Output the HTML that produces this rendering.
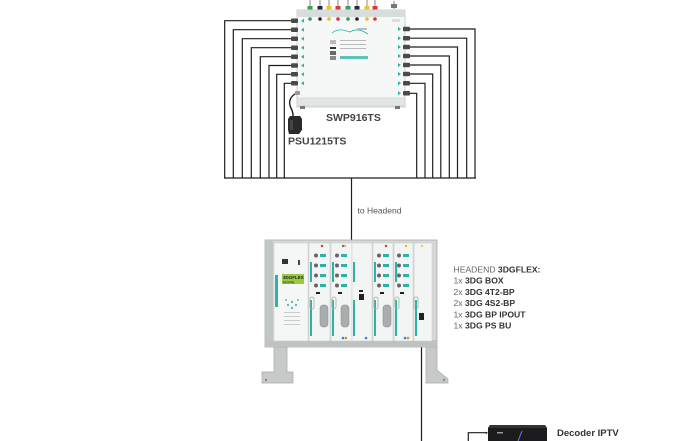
<!DOCTYPE html>
<html><head><meta charset="utf-8"><style>
html,body{margin:0;padding:0;background:#fff;}
svg{display:block;}
text{font-family:"Liberation Sans",sans-serif;}
</style></head><body>
<svg width="700" height="441" viewBox="0 0 700 441" xmlns="http://www.w3.org/2000/svg">
<rect width="700" height="441" fill="#fff"/>
<g fill="none" stroke="#1e1e1e" stroke-width="1.2">
<path d="M292 20.7H224.7V178"/>
<path d="M292 29.7H233.3V178"/>
<path d="M292 38.7H242.3V178"/>
<path d="M292 47.7H251.3V178"/>
<path d="M292 56.7H260.3V178"/>
<path d="M292 65.5H269V178"/>
<path d="M292 74.3H276.7V178"/>
<path d="M292 83.3H284.3V178"/>
<path d="M410 29H475V178"/>
<path d="M410 38.2H466.7V178"/>
<path d="M410 47H457.5V178"/>
<path d="M410 56H449.3V178"/>
<path d="M410 65H440.8V178"/>
<path d="M410 74H432.7V178"/>
<path d="M410 83.3H425V178"/>
<path d="M410 93.3H416.7V178"/>
<path d="M224 178H476"/>
<path d="M351.5 178V240"/>
<path d="M421.5 316V441"/>
<path d="M468.3 441V432.7H486.5"/>
<path d="M298 93 C290 95 288 102 291 108 C293 112 293 114 293 117" stroke-width="1.4"/>
</g>
<g>
<g stroke="#888" stroke-width="1"><path d="M310 0V8M320 0V8M329 0V8M338 0V8M348 0V8M357 0V8M367 0V8M375 0V8M394 1V9"/></g>
<rect x="307.5" y="6" width="5" height="4" fill="#3aa35a"/>
<rect x="317.5" y="6" width="5" height="4" fill="#2a2a3a"/>
<rect x="326.5" y="6" width="5" height="4" fill="#e8c82a"/>
<rect x="335.5" y="6" width="5" height="4" fill="#d83a3a"/>
<rect x="345.5" y="6" width="5" height="4" fill="#3aa35a"/>
<rect x="354.5" y="6" width="5" height="4" fill="#2a2a3a"/>
<rect x="364.5" y="6" width="5" height="4" fill="#e8c82a"/>
<rect x="372.5" y="6" width="5" height="4" fill="#d83a3a"/>
<rect x="391" y="4" width="6" height="4" fill="#777"/>
</g>
<rect x="297" y="10" width="108" height="97" fill="#f6f7f7" stroke="#cfd2d2" stroke-width="1"/>
<rect x="297" y="10" width="108" height="7" fill="#d9dcdc"/>
<rect x="297" y="98" width="108" height="8" fill="#e3e5e5" stroke="#c9cccc" stroke-width="0.6"/>
<rect x="300" y="106" width="5" height="3" fill="#777"/><rect x="395" y="106" width="5" height="3" fill="#777"/>
<g>
<circle cx="310" cy="19" r="1.8" fill="#2e9a5c"/><circle cx="320" cy="19" r="1.8" fill="#222"/>
<circle cx="329" cy="19" r="1.8" fill="#e3c12b"/><circle cx="338" cy="19" r="1.8" fill="#d33"/>
<circle cx="348" cy="19" r="1.8" fill="#2e9a5c"/><circle cx="357" cy="19" r="1.8" fill="#222"/>
<circle cx="367" cy="19" r="1.8" fill="#e3c12b"/><circle cx="375" cy="19" r="1.8" fill="#d33"/>
</g>
<g fill="#4a4a4a">
<rect x="291" y="18.5" width="7" height="4.5" rx="1"/><rect x="291" y="27.5" width="7" height="4.5" rx="1"/>
<rect x="291" y="36.5" width="7" height="4.5" rx="1"/><rect x="291" y="45.5" width="7" height="4.5" rx="1"/>
<rect x="291" y="54.5" width="7" height="4.5" rx="1"/><rect x="291" y="63.3" width="7" height="4.5" rx="1"/>
<rect x="291" y="72" width="7" height="4.5" rx="1"/><rect x="291" y="81" width="7" height="4.5" rx="1"/>
<rect x="295" y="91" width="5" height="4" rx="1" fill="#999"/>
</g>
<g fill="#2bb3a6">
<path d="M301 20.7l3-2v4z"/><path d="M301 29.7l3-2v4z"/><path d="M301 38.7l3-2v4z"/><path d="M301 47.7l3-2v4z"/>
<path d="M301 56.7l3-2v4z"/><path d="M301 65.5l3-2v4z"/><path d="M301 74.3l3-2v4z"/><path d="M301 83.3l3-2v4z"/>
</g>
<g fill="#4a4a4a">
<rect x="403" y="26.8" width="7" height="4.5" rx="1"/><rect x="403" y="36" width="7" height="4.5" rx="1"/>
<rect x="403" y="44.8" width="7" height="4.5" rx="1"/><rect x="403" y="53.8" width="7" height="4.5" rx="1"/>
<rect x="403" y="62.8" width="7" height="4.5" rx="1"/><rect x="403" y="71.8" width="7" height="4.5" rx="1"/>
<rect x="403" y="81" width="7" height="4.5" rx="1"/><rect x="403" y="91" width="7" height="4.5" rx="1"/>
</g>
<g fill="#2bb3a6">
<path d="M401 29l-3-2v4z"/><path d="M401 38.2l-3-2v4z"/><path d="M401 47l-3-2v4z"/><path d="M401 56l-3-2v4z"/>
<path d="M401 65l-3-2v4z"/><path d="M401 74l-3-2v4z"/><path d="M401 83.3l-3-2v4z"/><path d="M401 93.3l-3-2v4z"/>
</g>
<path d="M332 33 C338 28 344 30 350 32 C356 28 362 30 368 34" fill="none" stroke="#2bb3a6" stroke-width="0.8"/>
<g fill="#bbb"><rect x="357" y="28" width="10" height="2"/><rect x="330" y="40" width="6" height="4"/><rect x="340" y="40" width="26" height="1"/><rect x="340" y="44" width="26" height="1"/><rect x="340" y="48" width="26" height="1"/><rect x="330" y="47" width="6" height="2" fill="#333"/><rect x="330" y="51" width="6" height="4" fill="#666"/><rect x="330" y="56" width="6" height="4" fill="#888"/></g>
<rect x="340" y="56" width="28" height="3" fill="#5cc4b6"/>
<rect x="392" y="19" width="8" height="3" fill="#ddd"/>
<path d="M290 116h10l2 3v11l-3 4h-10l-1-4v-11z" fill="#2a2a2a"/>
<rect x="290" y="120" width="3" height="10" fill="#444"/>
<text x="326" y="121" font-size="10.5" font-weight="bold" fill="#444">SWP916TS</text>
<text x="288" y="144.5" font-size="10.5" font-weight="bold" fill="#444">PSU1215TS</text>
<text x="357.5" y="213.5" font-size="8.5" fill="#555">to Headend</text>
<path d="M274 346h13v26h6v11h-31v-11h12z" fill="#c8c9c9" stroke="#a8a9a9" stroke-width="0.7"/>
<path d="M426 346h11v24l11 9v4h-22z" fill="#c8c9c9" stroke="#a8a9a9" stroke-width="0.7"/>
<circle cx="266" cy="380" r="1.2" fill="#888"/><circle cx="444" cy="380" r="1.2" fill="#888"/>
<rect x="265" y="240" width="172" height="107" fill="#d6d8d8" stroke="#a9abab" stroke-width="0.8"/>
<rect x="265" y="241" width="8" height="105" fill="#c3c6c6"/>
<rect x="266" y="340" width="171" height="7" fill="#bfc2c2"/>
<rect x="274" y="243" width="34" height="98" fill="#f5f6f6" stroke="#c9cbcb" stroke-width="0.5"/>
<rect x="275" y="275" width="3" height="32" fill="#2bb3a6"/>
<rect x="282" y="259" width="6" height="5" fill="#333"/><rect x="298" y="260" width="2" height="5" fill="#444"/>
<rect x="282" y="274" width="22" height="10" fill="#9acb3c"/>
<text x="283" y="279" font-size="4.5" font-weight="bold" fill="#223">3DGFLEX</text>
<text x="283" y="283.5" font-size="3.2" fill="#223">DIGITAL</text>
<g fill="#5bbcc0"><circle cx="292" cy="302" r="1.2"/><circle cx="288" cy="305" r="1.2"/><circle cx="296" cy="305" r="1.2"/><circle cx="292" cy="308" r="1.2"/><circle cx="286" cy="300" r="1"/><circle cx="298" cy="300" r="1"/></g>
<g fill="#ccc"><rect x="284" y="312" width="16" height="1"/><rect x="284" y="316" width="16" height="1"/><rect x="284" y="320" width="16" height="1"/><rect x="284" y="324" width="16" height="1"/></g>
<g stroke="#c9cbcb" stroke-width="0.5" fill="#f3f4f4">
<rect x="309" y="243" width="21" height="98"/>
<rect x="331" y="243" width="21" height="98"/>
<rect x="352" y="243" width="20" height="98"/>
<rect x="373" y="243" width="20" height="98"/>
<rect x="394" y="243" width="19" height="98"/>
<rect x="414" y="243" width="18" height="98"/>
</g>
<g fill="#2bb3a6">
<rect x="310" y="262" width="2" height="20"/><rect x="310" y="300" width="2" height="36"/>
<rect x="332" y="262" width="2" height="20"/><rect x="332" y="300" width="2" height="36"/>
<rect x="353" y="262" width="2" height="20"/><rect x="353" y="300" width="2" height="36"/>
<rect x="374" y="262" width="2" height="20"/><rect x="374" y="300" width="2" height="36"/>
<rect x="395" y="262" width="2" height="20"/><rect x="395" y="300" width="2" height="36"/>
<rect x="415" y="300" width="2" height="36"/>
<rect x="320" y="254" width="6" height="3"/><rect x="320" y="264" width="6" height="3"/><rect x="320" y="274" width="6" height="3"/><rect x="320" y="284" width="6" height="3"/>
<rect x="341" y="254" width="6" height="3"/><rect x="341" y="264" width="6" height="3"/><rect x="341" y="274" width="6" height="3"/><rect x="341" y="284" width="6" height="3"/>
<rect x="383" y="254" width="6" height="3"/><rect x="383" y="264" width="6" height="3"/><rect x="383" y="274" width="6" height="3"/><rect x="383" y="284" width="6" height="3"/>
<rect x="403" y="254" width="6" height="3"/><rect x="403" y="264" width="6" height="3"/><rect x="403" y="274" width="6" height="3"/><rect x="403" y="284" width="6" height="3"/>
</g>
<g fill="#666">
<circle cx="316" cy="255.5" r="2"/><circle cx="316" cy="265.5" r="2"/><circle cx="316" cy="275.5" r="2"/><circle cx="316" cy="285.5" r="2"/>
<circle cx="337" cy="255.5" r="2"/><circle cx="337" cy="265.5" r="2"/><circle cx="337" cy="275.5" r="2"/><circle cx="337" cy="285.5" r="2"/>
<circle cx="379" cy="255.5" r="2"/><circle cx="379" cy="265.5" r="2"/><circle cx="379" cy="275.5" r="2"/><circle cx="379" cy="285.5" r="2"/>
<circle cx="399" cy="255.5" r="2"/><circle cx="399" cy="265.5" r="2"/><circle cx="399" cy="275.5" r="2"/><circle cx="399" cy="285.5" r="2"/>
</g>
<g fill="#222"><rect x="316" y="292" width="4" height="2"/><rect x="338" y="292" width="4" height="2"/><rect x="359" y="290" width="4" height="2"/><rect x="359" y="294" width="5" height="6"/><rect x="380" y="292" width="4" height="2"/><rect x="400" y="292" width="4" height="2"/><rect x="419" y="313" width="5" height="7"/></g>
<g fill="#d33"><circle cx="322" cy="246" r="1.2"/><circle cx="386" cy="246" r="1.2"/></g>
<g fill="#7a5bbf"><circle cx="343" cy="246" r="1.2"/></g>
<g fill="#e3c12b"><circle cx="345" cy="246" r="1.2"/><circle cx="406" cy="246" r="1.2"/><circle cx="422" cy="246" r="1"/></g>
<g fill="#a8aeae" stroke="#888" stroke-width="0.5">
<rect x="320" y="305" width="8" height="22" rx="3"/><rect x="341" y="305" width="8" height="22" rx="3"/><rect x="383" y="305" width="8" height="22" rx="3"/>
</g>
<g fill="none" stroke="#aaa" stroke-width="0.8"><rect x="310" y="297" width="4" height="12" rx="2"/><rect x="332" y="297" width="4" height="12" rx="2"/><rect x="374" y="297" width="4" height="12" rx="2"/><rect x="395" y="297" width="4" height="12" rx="2"/><rect x="414" y="297" width="4" height="12" rx="2"/></g>
<g fill="#e6892b"><circle cx="346" cy="338" r="1.3"/><circle cx="408" cy="338" r="1.3"/></g>
<g fill="#3a7fd8"><circle cx="343" cy="338" r="1.3"/><circle cx="366" cy="338" r="1.3"/><circle cx="405" cy="338" r="1.3"/></g>
<g font-size="8.6" fill="#444">
<text x="453.5" y="272.5"><tspan fill="#666">HEADEND </tspan><tspan font-weight="bold" fill="#333">3DGFLEX:</tspan></text>
<text x="453.5" y="283.7"><tspan fill="#666">1x </tspan><tspan font-weight="bold" fill="#333">3DG BOX</tspan></text>
<text x="453.5" y="294.9"><tspan fill="#666">2x </tspan><tspan font-weight="bold" fill="#333">3DG 4T2-BP</tspan></text>
<text x="453.5" y="306.1"><tspan fill="#666">2x </tspan><tspan font-weight="bold" fill="#333">3DG 4S2-BP</tspan></text>
<text x="453.5" y="317.3"><tspan fill="#666">1x </tspan><tspan font-weight="bold" fill="#333">3DG BP IPOUT</tspan></text>
<text x="453.5" y="328.5"><tspan fill="#666">1x </tspan><tspan font-weight="bold" fill="#333">3DG PS BU</tspan></text>
</g>
<circle cx="486.5" cy="432.7" r="1" fill="#222"/>
<path d="M490 425h55l2 3v13h-59v-13z" fill="#1c1c1e"/>
<path d="M490 425h55l2 3h-59z" fill="#333"/>
<path d="M518 441l4-10" stroke="#6a7cff" stroke-width="1"/>
<rect x="497" y="432" width="6" height="1.5" fill="#999"/>
<text x="557" y="436" font-size="9.5" font-weight="bold" fill="#333">Decoder IPTV</text>
</svg>
</body></html>
